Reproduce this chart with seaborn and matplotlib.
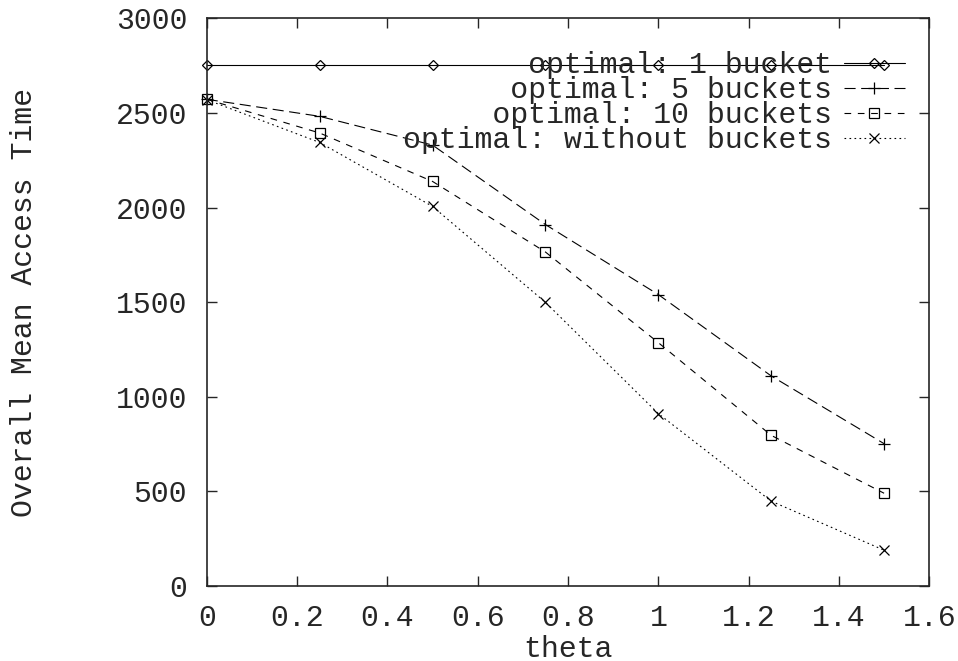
#!/usr/bin/env python
# Overall mean access time vs theta, gnuplot look-alike

import seaborn as sns
import matplotlib.pyplot as plt
from matplotlib.ticker import FormatStrFormatter

# data
theta = [0, 0.25, 0.5, 0.75, 1.0, 1.25, 1.5]
one_bucket = [2752, 2752, 2752, 2752, 2752, 2752, 2752]
five_buckets = [2572, 2482, 2330, 1910, 1540, 1110, 752]
ten_buckets = [2572, 2394, 2138, 1765, 1286, 796, 490]
no_buckets = [2570, 2344, 2006, 1499, 911, 448, 189]

series_names = ['optimal: 1 bucket', 'optimal: 5 buckets',
                'optimal: 10 buckets', 'optimal: without buckets']
x_ticks = [0, 0.2, 0.4, 0.6, 0.8, 1.0, 1.2, 1.4, 1.6]
y_ticks = [0, 500, 1000, 1500, 2000, 2500, 3000]

FS = 21.5

sns.set_style("ticks")
plt.rcParams['font.family'] = ['Liberation Mono', 'DejaVu Sans Mono']
plt.rcParams['font.size'] = FS

fig = plt.figure(figsize=(9.58, 6.61), dpi=100)
ax = fig.add_axes([0.2158, 0.1135, 0.7542, 0.8588])

# one style per series: (values, marker, markersize, dashes)
styles = [
    (one_bucket, 'D', 5, (None, None)),
    (five_buckets, '+', 8, (10, 5)),
    (ten_buckets, 's', 7, (6, 6)),
    (no_buckets, 'x', 7, (1.5, 3)),
]

handles = []
for name, (vals, mk, ms, dsh) in zip(series_names, styles):
    sns.lineplot(x=theta, y=vals, color='black', marker=mk, markersize=ms,
                 mec='black', mfc='none', mew=0.9, linewidth=0.8,
                 ax=ax, clip_on=False)
    line = ax.lines[-1]
    if dsh[0] is not None:
        line.set_dashes(dsh)
    handles.append(line)

ax.set_xlim(0, 1.6)
ax.set_ylim(0, 3000)
ax.set_xticks(x_ticks)
ax.set_yticks(y_ticks)
ax.xaxis.set_major_formatter(FormatStrFormatter('%g'))
ax.tick_params(direction='in', length=7, width=1, top=True, right=True,
               labelsize=FS)
ax.tick_params(axis='x', pad=13)
ax.tick_params(axis='y', pad=14)
for sp in ax.spines.values():
    sp.set_visible(True)
    sp.set_linewidth(1.2)

ax.set_xlabel('theta', fontsize=FS, labelpad=2)
ax.set_ylabel('Overall Mean Access Time', fontsize=FS, labelpad=56)

# gnuplot style key: right aligned text, sample to the right
width = max(len(s) for s in series_names)
labels = [s.rjust(width) for s in series_names]
leg = ax.legend(handles, labels, loc='upper right',
                bbox_to_anchor=(905 / 958, 1 - 51 / 661),
                bbox_transform=fig.transFigure,
                frameon=False, markerfirst=False, numpoints=1,
                handlelength=2.05, handletextpad=0.4, labelspacing=-0.1,
                borderpad=0, borderaxespad=0, fontsize=FS)

fig.savefig('out.png', dpi=100)
